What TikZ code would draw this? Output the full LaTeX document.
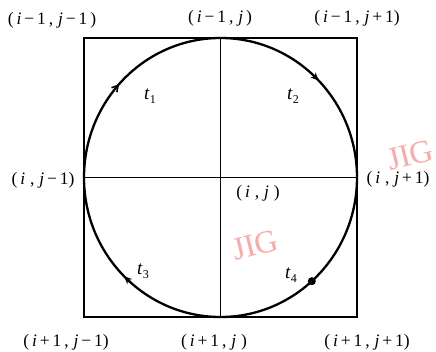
\documentclass[tikz,border=0pt]{standalone}
\usepackage{fontspec}
\setmainfont{Liberation Serif}
\usetikzlibrary{arrows.meta, positioning, calc}
\newcommand{\mi}{\textit{i}}
\newcommand{\mj}{\textit{j}}
\newcommand{\tsub}[2]{\textit{#1}\raisebox{-4pt}{\fontsize{12}{13}\selectfont #2}}

\begin{document}
\begin{tikzpicture}[x=1pt, y=1pt,
  grid/.style={line width=1.9pt},
  ring/.style={line width=2.3pt},
  lbl/.style={inner sep=1pt, font=\fontsize{17.5}{19}\selectfont},
  tlbl/.style={inner sep=1pt, font=\fontsize{19}{21}\selectfont},
  tick/.style={line width=2pt, -{Stealth[length=8pt, width=7pt]}},
  wmark/.style={text=red!35, inner sep=0pt, font=\fontsize{32}{34}\selectfont, rotate=14}]
\useasboundingbox (0,0) rectangle (436,351);
% watermarks
\node[wmark] (jig1) at (410,196) {JIG};
\node[wmark] (jig2) at (255,106) {JIG};
% square and cross
\coordinate (nw) at (84,313);
\coordinate (se) at (357,34);
\coordinate (n) at (220.5,313);
\coordinate (s) at (220.5,34);
\coordinate (w) at (84,173.5);
\coordinate (e) at (357,173.5);
\coordinate (c) at (220.5,173.5);
\draw[grid] (nw) rectangle (se);
\draw[grid] (n) -- (s);
\draw[grid] (w) -- (e);
\draw[ring] (c) ellipse [x radius=136.5, y radius=139.5];
% markers on the circle
\draw[line width=1.6pt, -{Straight Barb[length=6pt, width=7pt]}] ($(c)+(141:136.5 and 139.5)$) -- ($(c)+(138:136.5 and 139.5)$);
\draw[tick] ($(c)+(47:136.5 and 139.5)$) -- ($(c)+(44:136.5 and 139.5)$);
\draw[tick] ($(c)+(-131:136.5 and 139.5)$) -- ($(c)+(-135:136.5 and 139.5)$);
\fill ($(c)+(-48:136.5 and 139.5)$) circle (4);
% grid point labels
\node[lbl] (l11) at (52,331) {(\,\mi\,−\,1\,,\;\mj\,−\,1\,)};
\node[lbl] (l12) at (220,333) {(\,\mi\,−\,1\,,\;\mj\,)};
\node[lbl] (l13) at (357,333) {(\,\mi\,−\,1\,,\;\mj\,+\,1)};
\node[lbl] (l21) at (43,171) {(\,\mi\;,\;\mj\,−\,1)};
\node[lbl] (l22) at (258,158) {(\,\mi\;,\;\mj\;)};
\node[lbl] (l23) at (398,172) {(\,\mi\;,\;\mj\,+\,1)};
\node[lbl] (l31) at (66,9) {(\,\mi\,+\,1\,,\;\mj\,−\,1)};
\node[lbl] (l32) at (214,9) {(\,\mi\,+\,1\,,\;\mj\;)};
\node[lbl] (l33) at (367,9) {(\,\mi\,+\,1\,,\;\mj\,+\,1)};
% time labels
\node[tlbl] (t1) at (150,255) {\tsub{t}{1}};
\node[tlbl] (t2) at (293,255) {\tsub{t}{2}};
\node[tlbl] (t3) at (143,80) {\tsub{t}{3}};
\node[tlbl] (t4) at (291,76) {\tsub{t}{4}};
\end{tikzpicture}
\end{document}
